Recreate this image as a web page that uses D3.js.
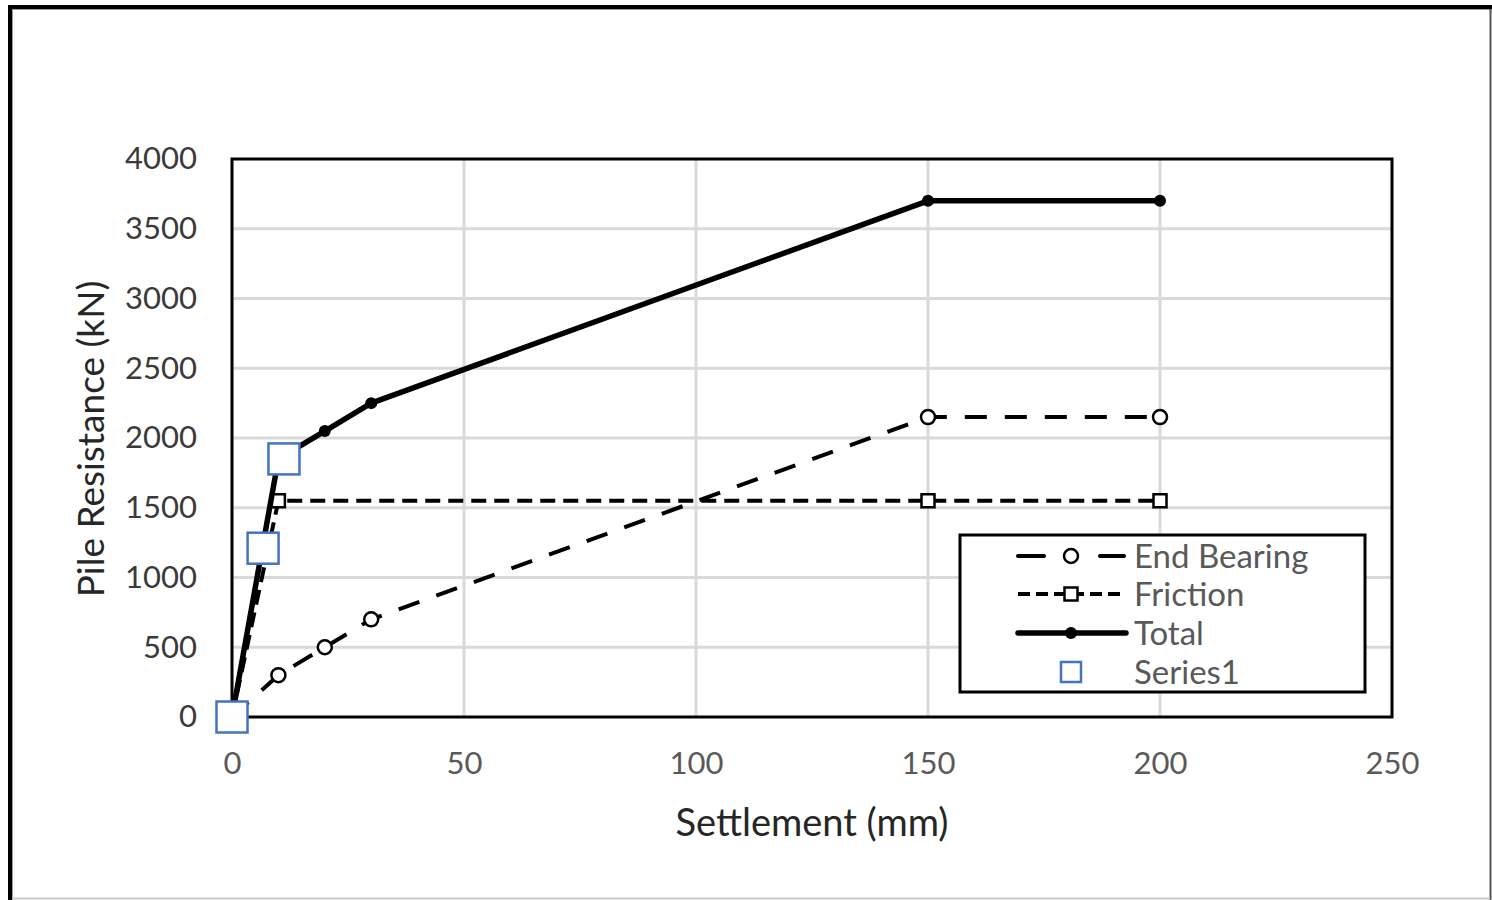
<!DOCTYPE html>
<html>
<head>
<meta charset="utf-8">
<script src="https://cdn.jsdelivr.net/npm/d3@7"></script>
<style>
  html, body { margin: 0; padding: 0; background: #fff; }
  svg { display: block; font-family: Lato, "Open Sans", sans-serif; }
</style>
</head>
<body>
<svg id="chart" width="1492" height="900"></svg>
<script>
// Settlement (mm) and pile resistance (kN) for each component
const ebSettlement  = [0, 10, 20, 30, 150, 200];
const endBearing    = [0, 300, 500, 700, 2150, 2150];
const frSettlement  = [0, 10, 150, 200];
const friction      = [0, 1550, 1550, 1550];
const totSettlement = [0, 10, 20, 30, 150, 200];
const total         = [0, 1850, 2050, 2250, 3700, 3700];
const series1X      = [0, 6.7, 11.2];
const series1Y      = [0, 1210, 1850];
const xTicks        = [0, 50, 100, 150, 200, 250];
const yTicks        = [0, 500, 1000, 1500, 2000, 2500, 3000, 3500, 4000];
const legendLabels  = ["End Bearing", "Friction", "Total", "Series1"];

const svg = d3.select("#chart");
const W = 1492, H = 900;

// outer frame
svg.append("line").attr("x1", 8).attr("x2", W).attr("y1", 7).attr("y2", 7)
  .attr("stroke", "#000").attr("stroke-width", 4);
svg.append("line").attr("x1", 10).attr("x2", 10).attr("y1", 5).attr("y2", H)
  .attr("stroke", "#000").attr("stroke-width", 4);
svg.append("line").attr("x1", 12.5).attr("x2", 12.5).attr("y1", 9).attr("y2", H)
  .attr("stroke", "#9a9a9a").attr("stroke-width", 1);
svg.append("line").attr("x1", 12).attr("x2", W).attr("y1", 9.5).attr("y2", 9.5)
  .attr("stroke", "#9a9a9a").attr("stroke-width", 1);
svg.append("line").attr("x1", 1490.5).attr("x2", 1490.5).attr("y1", 9).attr("y2", H)
  .attr("stroke", "#555").attr("stroke-width", 2);
svg.append("line").attr("x1", 12).attr("x2", 1490).attr("y1", 898.5).attr("y2", 898.5)
  .attr("stroke", "#c8c8c8").attr("stroke-width", 2);

const pLeft = 232, pRight = 1392, pTop = 159, pBottom = 717;
const x = d3.scaleLinear().domain([0, 250]).range([pLeft, pRight]);
const y = d3.scaleLinear().domain([0, 4000]).range([pBottom, pTop]);

// gridlines
const grid = svg.append("g");
grid.selectAll("line.vx").data(xTicks.slice(1, -1)).join("line")
  .attr("x1", d => x(d)).attr("x2", d => x(d)).attr("y1", pTop).attr("y2", pBottom)
  .attr("stroke", "#d9d9d9").attr("stroke-width", 3);
grid.selectAll("line.hy").data(yTicks.slice(1, -1)).join("line")
  .attr("x1", pLeft).attr("x2", pRight).attr("y1", d => y(d)).attr("y2", d => y(d))
  .attr("stroke", "#d9d9d9").attr("stroke-width", 3);

// plot border
svg.append("rect").attr("x", pLeft).attr("y", pTop)
  .attr("width", pRight - pLeft).attr("height", pBottom - pTop)
  .attr("fill", "none").attr("stroke", "#000").attr("stroke-width", 3);

// axes (labels only)
const xAxis = svg.append("g").attr("transform", `translate(0,${pBottom + 32})`)
  .call(d3.axisBottom(x).tickValues(xTicks).tickSize(0).tickFormat(d3.format("d")));
xAxis.select(".domain").remove();
xAxis.selectAll("text").attr("font-size", 31).attr("fill", "#595959")
  .attr("font-family", "Lato, sans-serif");

const yAxis = svg.append("g").attr("transform", `translate(${pLeft - 32},0)`)
  .call(d3.axisLeft(y).tickValues(yTicks).tickSize(0).tickFormat(d3.format("d")));
yAxis.select(".domain").remove();
yAxis.selectAll("text").attr("font-size", 31).attr("fill", "#3a3a3a")
  .attr("font-family", "Lato, sans-serif");

// axis titles
svg.append("text").attr("x", 812).attr("y", 836).attr("text-anchor", "middle")
  .attr("font-size", 38).attr("fill", "#262626").text("Settlement (mm)");
svg.append("text").attr("transform", "translate(104,439) rotate(-90)")
  .attr("text-anchor", "middle").attr("font-size", 37).attr("fill", "#262626")
  .text("Pile Resistance (kN)");

const line = d3.line().x(d => x(d[0])).y(d => y(d[1]));
const ebPts = ebSettlement.map((s, i) => [s, endBearing[i]]);
const frPts = frSettlement.map((s, i) => [s, friction[i]]);
const totPts = totSettlement.map((s, i) => [s, total[i]]);

// End Bearing
svg.append("path").datum(ebPts).attr("d", line).attr("fill", "none")
  .attr("stroke", "#000").attr("stroke-width", 4).attr("stroke-dasharray", "22 18");
svg.selectAll("circle.eb").data(ebPts).join("circle")
  .attr("cx", d => x(d[0])).attr("cy", d => y(d[1])).attr("r", 7)
  .attr("fill", "#fff").attr("stroke", "#000").attr("stroke-width", 2.5);

// Friction
svg.append("path").datum(frPts).attr("d", line).attr("fill", "none")
  .attr("stroke", "#000").attr("stroke-width", 4).attr("stroke-dasharray", "15 8");
svg.selectAll("rect.fr").data(frPts).join("rect")
  .attr("x", d => x(d[0]) - 6.5).attr("y", d => y(d[1]) - 6.5)
  .attr("width", 13).attr("height", 13)
  .attr("fill", "#fff").attr("stroke", "#000").attr("stroke-width", 2.5);

// Total
svg.append("path").datum(totPts).attr("d", line).attr("fill", "none")
  .attr("stroke", "#000").attr("stroke-width", 5.5).attr("stroke-linejoin", "round");
svg.selectAll("circle.tot").data(totPts).join("circle")
  .attr("cx", d => x(d[0])).attr("cy", d => y(d[1])).attr("r", 6)
  .attr("fill", "#000");

// Series1 markers
const s1 = series1X.map((v, i) => [v, series1Y[i]]);
svg.selectAll("rect.s1").data(s1).join("rect")
  .attr("x", d => x(d[0]) - 15.5).attr("y", d => y(d[1]) - 15.5)
  .attr("width", 31).attr("height", 31)
  .attr("fill", "#fff").attr("stroke", "#4472c4").attr("stroke-width", 2.5);

// legend
const lg = svg.append("g");
lg.append("rect").attr("x", 960).attr("y", 535).attr("width", 405).attr("height", 157)
  .attr("fill", "#fff").attr("stroke", "#000").attr("stroke-width", 3);
const rowY = [556, 594, 633, 672];
const lx1 = 1018, lx2 = 1126, lmid = 1071;

// End Bearing sample
lg.append("line").attr("x1", lx1).attr("x2", 1044).attr("y1", rowY[0]).attr("y2", rowY[0])
  .attr("stroke", "#000").attr("stroke-width", 4).attr("stroke-linecap", "round");
lg.append("line").attr("x1", 1100).attr("x2", 1124).attr("y1", rowY[0]).attr("y2", rowY[0])
  .attr("stroke", "#000").attr("stroke-width", 4).attr("stroke-linecap", "round");
lg.append("circle").attr("cx", lmid).attr("cy", rowY[0]).attr("r", 7)
  .attr("fill", "#fff").attr("stroke", "#000").attr("stroke-width", 2.5);
// Friction sample
lg.append("line").attr("x1", lx1).attr("x2", lx2).attr("y1", rowY[1]).attr("y2", rowY[1])
  .attr("stroke", "#000").attr("stroke-width", 4).attr("stroke-dasharray", "12 6");
lg.append("rect").attr("x", lmid - 6.5).attr("y", rowY[1] - 6.5).attr("width", 13).attr("height", 13)
  .attr("fill", "#fff").attr("stroke", "#000").attr("stroke-width", 2.5);
// Total sample
lg.append("line").attr("x1", lx1).attr("x2", lx2).attr("y1", rowY[2]).attr("y2", rowY[2])
  .attr("stroke", "#000").attr("stroke-width", 5.5).attr("stroke-linecap", "round");
lg.append("circle").attr("cx", lmid).attr("cy", rowY[2]).attr("r", 6).attr("fill", "#000");
// Series1 sample
lg.append("rect").attr("x", lmid - 10).attr("y", rowY[3] - 10).attr("width", 20).attr("height", 20)
  .attr("fill", "#fff").attr("stroke", "#4472c4").attr("stroke-width", 2.5);

lg.selectAll("text").data(legendLabels).join("text")
  .attr("x", 1134).attr("y", (d, i) => rowY[i]).attr("dy", "0.36em")
  .attr("font-size", 33).attr("fill", "#595959").text(d => d);
</script>
</body>
</html>
